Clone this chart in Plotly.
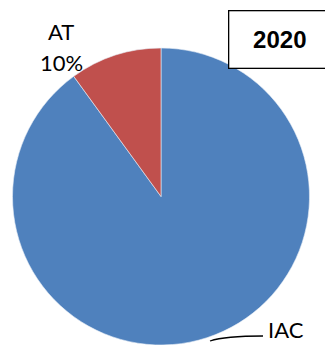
import plotly.graph_objects as go

# data
labels = ["IAC", "AT"]
values = [90, 10]
colors = ["#4F81BD", "#C0504D"]
title = "2020"

# the page body has an 8px margin, so the figure is 8px smaller and
# positions below are given in reference pixels minus that offset
OFF = 8
W, H = 333 - OFF, 345 - OFF


def px(x):
    return (x - OFF) / W


def py(y):
    return 1 - (y - OFF) / H


total = sum(values)
pcts = [str(round(v * 100 / total)) + "%" for v in values]

fig = go.Figure()
fig.add_trace(go.Pie(
    labels=labels, values=values, sort=False, direction="clockwise",
    rotation=0, textinfo="none", hoverinfo="label+percent",
    marker=dict(colors=colors, line=dict(color="#e8eef6", width=0.6)),
    domain=dict(x=[px(11), px(311)], y=[0, py(48)]),
    showlegend=False,
))

lab_font = dict(family="Lato", size=22, color="black")

# AT label, two lines
fig.add_annotation(text=labels[1], x=px(61), y=py(31), xref="paper", yref="paper",
                   showarrow=False, font=lab_font, xanchor="center", yanchor="middle")
fig.add_annotation(text=pcts[1], x=px(61.5), y=py(63), xref="paper", yref="paper",
                   showarrow=False, font=lab_font, xanchor="center", yanchor="middle")

# IAC label with leader line
fig.add_annotation(text=labels[0], x=px(286), y=py(329), xref="paper", yref="paper",
                   showarrow=False, font=lab_font, xanchor="center", yanchor="middle")
fig.add_shape(type="path", xref="paper", yref="paper",
              path="M %f,%f Q %f,%f %f,%f" % (px(210), py(341), px(225), py(336), px(263), py(336)),
              line=dict(color="black", width=1.3))

# title box
fig.add_annotation(text="<b>" + title + "</b>", x=px(228), y=py(10), xref="paper", yref="paper",
                   xanchor="left", yanchor="top", showarrow=False,
                   font=dict(family="Liberation Sans", size=24, color="black"),
                   bordercolor="black", borderwidth=1.3, borderpad=0, bgcolor="white",
                   width=101, height=56)

fig.update_layout(width=W, height=H, margin=dict(l=0, r=0, t=0, b=0),
                  paper_bgcolor="white", plot_bgcolor="white")
fig.write_html("out.html")
